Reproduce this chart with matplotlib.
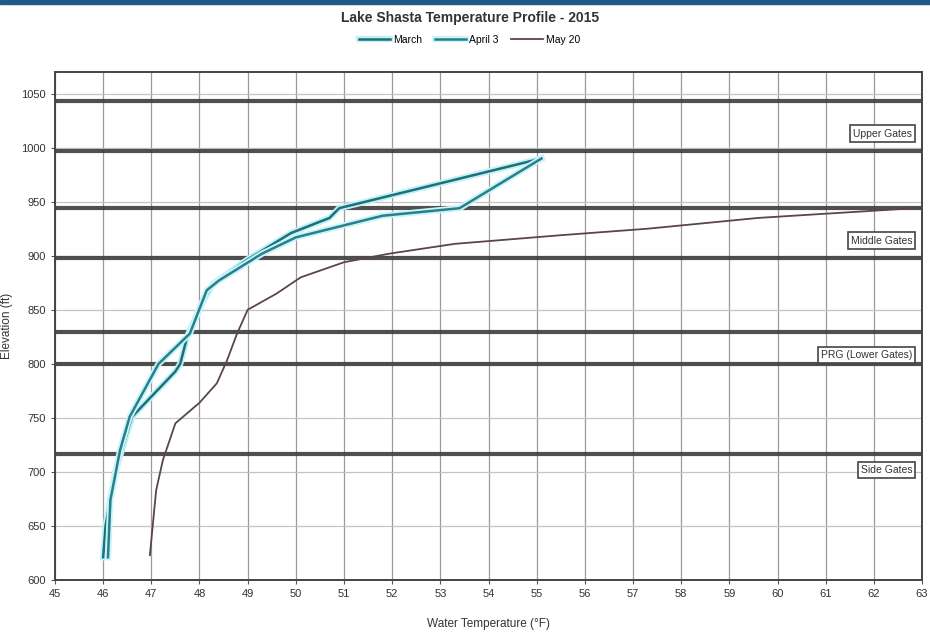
import matplotlib
matplotlib.use("Agg")
import matplotlib.pyplot as plt
import matplotlib.patheffects as pe
from matplotlib.patches import Rectangle

plt.rcParams['font.family'] = ['Liberation Sans', 'DejaVu Sans']

# ---- data (elevation ft, temperature F) ----
march_elev = [990, 944, 935, 921, 896, 874, 860, 826, 800, 793, 751, 700, 650, 621]
march_temp = [55.1, 50.9, 50.7, 49.9, 48.98, 48.28, 48.1, 47.75, 47.6, 47.5, 46.6, 46.25, 46.05, 46.0]

april_elev = [990, 944, 937, 917, 902, 877, 868, 828, 800, 751, 720, 674, 621]
april_temp = [55.1, 53.4, 51.8, 50.0, 49.3, 48.4, 48.15, 47.8, 47.15, 46.55, 46.35, 46.15, 46.1]

may_elev = [945, 935, 925, 919, 911, 902, 894, 880, 865, 850, 828, 803, 782, 764, 745, 711, 683, 623]
may_temp = [63.2, 59.6, 57.3, 55.5, 53.3, 51.95, 51.0, 50.1, 49.6, 49.0, 48.78, 48.57, 48.36, 48.0,
            47.5, 47.24, 47.1, 46.97]

series_names = ["March", "April 3", "May 20"]

gate_lines = [1043, 997, 944, 898, 829, 800, 717]
gate_labels = ["Upper Gates", "Middle Gates", "PRG (Lower Gates)", "Side Gates"]
gate_label_elev = [1013, 914, 808, 702]

x_ticks = list(range(45, 64))
y_ticks = list(range(600, 1051, 50))

title = "Lake Shasta Temperature Profile - 2015"
xlabel = "Water Temperature (°F)"
ylabel = "Elevation (ft)"

# ---- figure ----
fig = plt.figure(figsize=(9.30, 6.41), dpi=100)
fig.patches.append(Rectangle((0, 1 - 4 / 641), 1, 4 / 641, transform=fig.transFigure,
                             color="#1f5a8a", zorder=0))
ax = fig.add_axes([55 / 930, 1 - 580 / 641, (922 - 55) / 930, (580 - 72) / 641])

ax.set_xlim(45, 63)
ax.set_ylim(600, 1070)
ax.set_xticks(x_ticks)
ax.set_yticks(y_ticks)
ax.tick_params(labelsize=8, length=3, color="#555555", labelcolor="#333333")

for t in x_ticks:
    ax.axvline(t, color="#9a9a9a", lw=0.9, zorder=1)
for e in y_ticks:
    ax.axhline(e, color="#c4c4c4", lw=0.9, zorder=1)

for e in gate_lines:
    ax.axhline(e, color="#3d3d3d", lw=3.0, alpha=0.9, zorder=2)

# curves
ax.plot(march_temp, march_elev, color="#1f6e78", lw=1.8, zorder=4, label=series_names[0],
        path_effects=[pe.Stroke(linewidth=4.5, foreground="#bff2f7"), pe.Normal()])
ax.plot(april_temp, april_elev, color="#2a7f8c", lw=1.8, zorder=4, label=series_names[1],
        path_effects=[pe.Stroke(linewidth=4.5, foreground="#c8f4fa"), pe.Normal()])
ax.plot(may_temp, may_elev, color="#5a4450", lw=1.3, zorder=3, label=series_names[2])

for lab, e in zip(gate_labels, gate_label_elev):
    ax.text(62.8, e, lab, ha="right", va="center", fontsize=7.5, color="#333333", zorder=5,
            bbox=dict(boxstyle="square,pad=0.3", facecolor="white", edgecolor="#444444", lw=1.2))

for s in ax.spines.values():
    s.set_color("#444444")
    s.set_linewidth(1.4)

ax.set_xlabel(xlabel, fontsize=8.5, color="#333333", labelpad=14)
ax.set_ylabel(ylabel, fontsize=8.5, color="#333333", labelpad=6)

fig.text(0.505, 1 - 18 / 641, title, ha="center", va="center", fontsize=10,
         fontweight="bold", color="#333333")
fig.legend(loc="center", bbox_to_anchor=(0.505, 1 - 40 / 641), ncol=3, frameon=False,
           fontsize=7.5, handlelength=3, columnspacing=1.2, handletextpad=0.3)

fig.savefig("out.png", dpi=100)
